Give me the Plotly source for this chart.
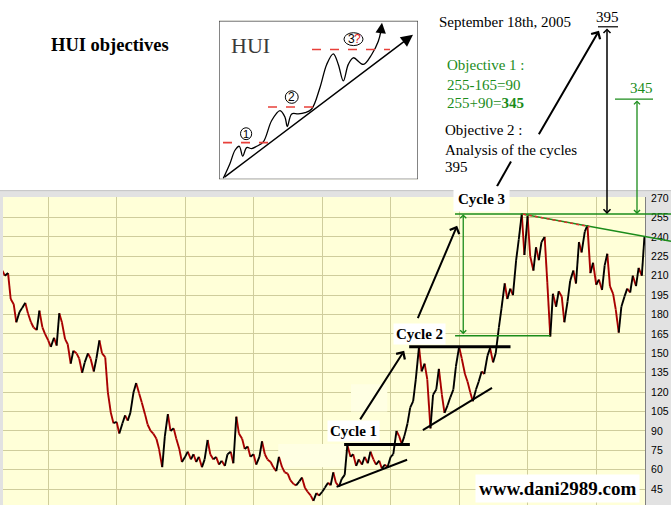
import pandas as pd
import plotly.graph_objects as go

# ---------------- data (HUI index, semi-monthly readings) ----------------
dates = pd.date_range("1996-05-01", "2005-09-15", freq="SMS")

hui_1996 = [214, 210, 212, 192, 188, 174, 182, 185, 189, 181, 174, 170, 168, 183, 170, 165]
hui_1997 = [160, 155, 162, 156, 181, 174, 161, 157, 142, 152, 150, 146,
            135, 143, 150, 146, 136, 146, 160, 150, 147, 120, 104, 96]
hui_1998 = [97, 88, 96, 102, 98, 104, 120, 127, 119, 112, 103, 95,
            90, 88, 84, 76, 62, 86, 103, 90, 92, 84, 76, 66]
hui_1999 = [70, 74, 68, 72, 66, 70, 62, 68, 83, 72, 68, 70,
            64, 67, 63, 72, 74, 65, 101, 88, 84, 76, 78, 70]
hui_2000 = [72, 64, 70, 82, 72, 68, 66, 62, 59, 70, 62, 58,
            57, 52, 49, 48, 51, 54, 46, 43, 40, 36, 42, 40]
hui_2001 = [43, 46, 50, 48, 58, 50, 47, 53, 56, 79, 70, 72,
            63, 68, 64, 70, 65, 74, 68, 64, 67, 61, 64, 62]
hui_2002 = [70, 72, 90, 86, 80, 86, 96, 108, 113, 130, 155, 136,
            142, 130, 92, 118, 122, 138, 118, 104, 110, 116, 122, 140]
hui_2003 = [155, 146, 134, 128, 120, 113, 122, 128, 136, 134, 148, 154,
            143, 150, 170, 185, 204, 192, 200, 195, 222, 238, 258, 226]
hui_2004 = [256, 225, 214, 232, 222, 236, 240, 205, 163, 196, 186, 198,
            194, 174, 190, 206, 214, 204, 236, 228, 244, 249, 212, 220]
hui_2005 = [203, 207, 199, 218, 227, 202, 196, 184, 166, 186, 194, 200,
            197, 210, 202, 216, 210, 240]

hui = hui_1996 + hui_1997 + hui_1998 + hui_1999 + hui_2000 + hui_2001 + \
      hui_2002 + hui_2003 + hui_2004 + hui_2005

tick_values = list(range(45, 271, 15))
tick_labels = [str(v) for v in tick_values]

# analyst levels
cycle1_top, cycle2_top = 79.5, 155
level_high, level_low = 257.5, 163.6

# inset sketch (drawn in its own little pixel-like frame)
sketch_x = [223.3, 230.0, 235.0, 239.3, 242.7, 246.7, 251.7, 256.7, 263.3, 271.7, 280.0,
            285.0, 287.3, 291.7, 298.3, 305.0, 311.7, 320.0, 326.7, 333.3, 338.3, 343.3,
            348.3, 353.3, 363.3, 371.7, 378.3, 381.0]
sketch_y = [175.0, 160.0, 146.7, 142.7, 152.7, 144.0, 145.0, 142.7, 138.3, 116.7, 106.7,
            113.3, 122.7, 110.0, 110.0, 108.7, 105.0, 83.3, 60.0, 49.3, 60.0, 76.7,
            60.0, 53.3, 60.0, 50.0, 36.7, 26.0]

# ---------------- helpers ----------------
W, H = 671, 505
def px(x):
    return x / W
def py(y):
    return 1 - y / H
def yr(t):
    y = int(t)
    return pd.Timestamp(f"{y}-01-01") + pd.Timedelta(days=(t - y) * 365.25)

GREEN = "#1b8c1b"
RED = "#a80000"
SERIF = "Liberation Serif"

fig = go.Figure()

# price line: down moves red, up moves black
up_x, up_y, dn_x, dn_y = [], [], [], []
for i in range(1, len(hui)):
    sx = [dates[i - 1], dates[i], None]
    sy = [hui[i - 1], hui[i], None]
    if hui[i] >= hui[i - 1]:
        up_x += sx; up_y += sy
    else:
        dn_x += sx; dn_y += sy
fig.add_trace(go.Scatter(x=dn_x, y=dn_y, mode="lines", line=dict(color=RED, width=1.9),
                         hoverinfo="skip", showlegend=False))
fig.add_trace(go.Scatter(x=up_x, y=up_y, mode="lines", line=dict(color="#000000", width=1.9),
                         hoverinfo="skip", showlegend=False))

# inset sketch wave
fig.add_trace(go.Scatter(x=sketch_x, y=sketch_y, mode="lines", xaxis="x2", yaxis="y2",
                         line=dict(color="black", width=1.3, shape="spline"),
                         hoverinfo="skip", showlegend=False))

shapes = []
# gray frame strips
for (x0, y0, x1, y1) in [(645, 187, 671, 505), (0, 187, 671, 194), (0, 187, 3, 505)]:
    shapes.append(dict(type="rect", xref="paper", yref="paper", x0=px(x0), x1=px(x1),
                       y0=py(y1), y1=py(y0), fillcolor="#e2e2e2", line=dict(width=0), layer="below"))
shapes.append(dict(type="line", xref="paper", yref="paper", x0=0, x1=1, y0=py(187.5), y1=py(187.5),
                   line=dict(color="#c4c4c4", width=1), layer="below"))

# pale pasted areas
for (t0, t1, v0, v1) in [(2000.36, 2001.33, 62, 80), (2001.42, 2001.95, 105, 126)]:
    shapes.append(dict(type="rect", xref="x", yref="y", x0=yr(t0), x1=yr(t1), y0=v0, y1=v1,
                       fillcolor="#ffffe3", line=dict(width=0), layer="between"))

# cycle lines
def dline(t0, v0, t1, v1, color="black", width=2, dash="solid"):
    shapes.append(dict(type="line", xref="x", yref="y", x0=yr(t0), y0=v0, x1=yr(t1), y1=v1,
                       line=dict(color=color, width=width, dash=dash)))
dline(2001.32, cycle1_top, 2002.28, cycle1_top, width=3)
dline(2001.21, 46.8, 2002.24, 67.7, width=2)
dline(2002.27, cycle2_top, 2003.75, cycle2_top, width=3)
dline(2002.47, 90.7, 2003.48, 123.3, width=2)
dline(2002.94, level_low, 2004.33, level_low, color=GREEN, width=1.5)

# paper lines (extend outside plot)
def pline(x0, y0, x1, y1, color="black", width=1.5, dash="solid"):
    shapes.append(dict(type="line", xref="paper", yref="paper", x0=px(x0), y0=py(y0),
                       x1=px(x1), y1=py(y1), line=dict(color=color, width=width, dash=dash)))
pline(455, 211, 671, 211, color=GREEN, width=1.5)
pline(522, 211, 671, 238.7, color=GREEN, width=1.5)
pline(523, 211.2, 590, 224, color="#e03030", width=1.5, dash="dot")
pline(598, 22, 618, 22, color="black", width=1.2)
pline(615, 95, 653, 95, color=GREEN, width=1.2)
pline(497, 183, 511, 158, color="black", width=2)

# inset frame and marks
shapes.append(dict(type="rect", xref="x2", yref="y2", x0=219, x1=418, y0=16, y1=176,
                   fillcolor="white", line=dict(color="#333333", width=1.2), layer="below"))
for (x0, x1, yv) in [(223, 268, 139), (268, 318, 103), (312, 390, 45)]:
    shapes.append(dict(type="line", xref="x2", yref="y2", x0=x0, x1=x1, y0=yv, y1=yv,
                       line=dict(color="#e8403a", width=1.6, dash="dash")))
for (x0, x1, y0, y1) in [(240.5, 251.7, 124, 136), (285.3, 298.2, 86.7, 99.3), (344, 363, 28, 41)]:
    shapes.append(dict(type="circle", xref="x2", yref="y2", x0=x0, x1=x1, y0=y0, y1=y1,
                       fillcolor="white", line=dict(color="black", width=1)))

ann = []
def ptext(x, y, text, size=15, color="black", xanchor="center", bold=False, bg=None, family=SERIF, pad=1):
    d = dict(xref="paper", yref="paper", x=px(x), y=py(y), text=f"<b>{text}</b>" if bold else text,
             showarrow=False, xanchor=xanchor, yanchor="middle",
             font=dict(family=family, size=size, color=color), borderpad=pad)
    if bg:
        d["bgcolor"] = bg
    ann.append(d)

ptext(110, 40, "HUI objectives", size=18.5, bold=True)
ptext(505, 17, "September 18th, 2005", size=15)
ptext(607, 12, "395", size=15)
ptext(641, 84, "345", size=15, color=GREEN)
ptext(445, 61, "Objective 1 :", size=15, color=GREEN, xanchor="left")
ptext(445, 81, "255-165=90", size=15, color=GREEN, xanchor="left")
ptext(445, 99, "255+90=<b>345</b>", size=15, color=GREEN, xanchor="left")
ptext(443, 126, "Objective 2 :", size=15, xanchor="left")
ptext(443, 146, "Analysis of the cycles", size=15, xanchor="left")
ptext(443, 164, "395", size=15, xanchor="left")
ptext(353, 430, "Cycle 1", size=15, bold=True, bg="white", pad=2)
ptext(419, 332, "Cycle 2", size=15, bold=True, bg="white", pad=2)
ptext(481, 196, "Cycle 3", size=15, bold=True, bg="white", pad=4)
ptext(557, 488, "www.dani2989.com", size=19, bold=True, bg="white", pad=3)

# inset texts
def itext(x, y, text, size, color="black", family=SERIF):
    ann.append(dict(xref="x2", yref="y2", x=x, y=y, text=text, showarrow=False,
                    font=dict(family=family, size=size, color=color)))
itext(250, 41, "HUI", 22, color="#3a3a3a")
itext(246.1, 130, "1", 11, family="Liberation Sans")
itext(291.8, 93, "2", 12, family="Liberation Sans")
itext(351, 34.5, "3", 12, family="Liberation Sans")
itext(357, 34.5, "?", 12, color="#e02020", family="Liberation Sans")

# arrows
def darrow(th, vh, tt, vt, color="black", width=2, both=False, head=4, size=1.0):
    d = dict(xref="x", yref="y", axref="x", ayref="y", x=yr(th), y=vh, ax=yr(tt), ay=vt,
             text="", showarrow=True, arrowhead=head, arrowsize=size, arrowwidth=width,
             arrowcolor=color)
    if both:
        d.update(arrowside="end+start", startarrowhead=head, startarrowsize=size)
    ann.append(d)
darrow(2002.197, 151.9, 2001.54, 97.8)
darrow(2002.97, 248.6, 2002.387, 176)
darrow(2003.06, level_high, 2003.06, level_low, color=GREEN, width=1.3, both=True, size=0.9)

def parrow(x, y, dx, dy, color="black", width=1.5, both=False, head=4, size=1.0):
    d = dict(xref="paper", yref="paper", x=px(x), y=py(y), ax=dx, ay=dy, text="",
             showarrow=True, arrowhead=head, arrowsize=size, arrowwidth=width, arrowcolor=color)
    if both:
        d.update(arrowside="end+start", startarrowhead=head, startarrowsize=size)
    ann.append(d)
parrow(607, 211, 0, -187, width=1.5, both=True, size=0.9)
parrow(637, 211, 0, -115, color=GREEN, width=1.3, both=True, size=0.9)
parrow(599, 26, -61, 105, width=2)

# inset arrows
ann.append(dict(xref="x2", yref="y2", axref="x2", ayref="y2", x=413, y=30, ax=223, ay=175,
                text="", showarrow=True, arrowhead=2, arrowsize=1.6, arrowwidth=1.5, arrowcolor="black"))
ann.append(dict(xref="x2", yref="y2", axref="x2", ayref="y2", x=382, y=18, ax=380.5, ay=30,
                text="", showarrow=True, arrowhead=2, arrowsize=1.6, arrowwidth=1.3, arrowcolor="black"))

fig.update_layout(
    width=W, height=H, margin=dict(l=0, r=0, t=0, b=0),
    paper_bgcolor="white", plot_bgcolor="#ffffd8", showlegend=False,
    shapes=shapes, annotations=ann,
    xaxis=dict(domain=[px(3), px(645)], type="date", range=["1996-05-05", "2005-09-18"],
               showgrid=True, gridcolor="#cfcd9c", gridwidth=1.3, dtick="M12", tick0="1997-01-01",
               showticklabels=False, ticks="", zeroline=False, showline=False),
    yaxis=dict(domain=[0, py(194)], range=[32.76, 270.77], side="right",
               tickvals=tick_values, ticktext=tick_labels, showgrid=True, gridcolor="#cfcd9c",
               gridwidth=1.3, ticks="", zeroline=False, showline=True, linecolor="#808080",
               tickfont=dict(family="Liberation Sans", size=10.5, color="black"),
               ticklabelstandoff=3),
    xaxis2=dict(domain=[px(219), px(418)], range=[219, 418], visible=False, anchor="y2"),
    yaxis2=dict(domain=[py(176), py(16)], range=[176, 16], visible=False, anchor="x2"),
)

fig.write_html("out.html", config={"displayModeBar": False},
               post_script="document.body.style.margin='0px';document.body.style.padding='0px';")
